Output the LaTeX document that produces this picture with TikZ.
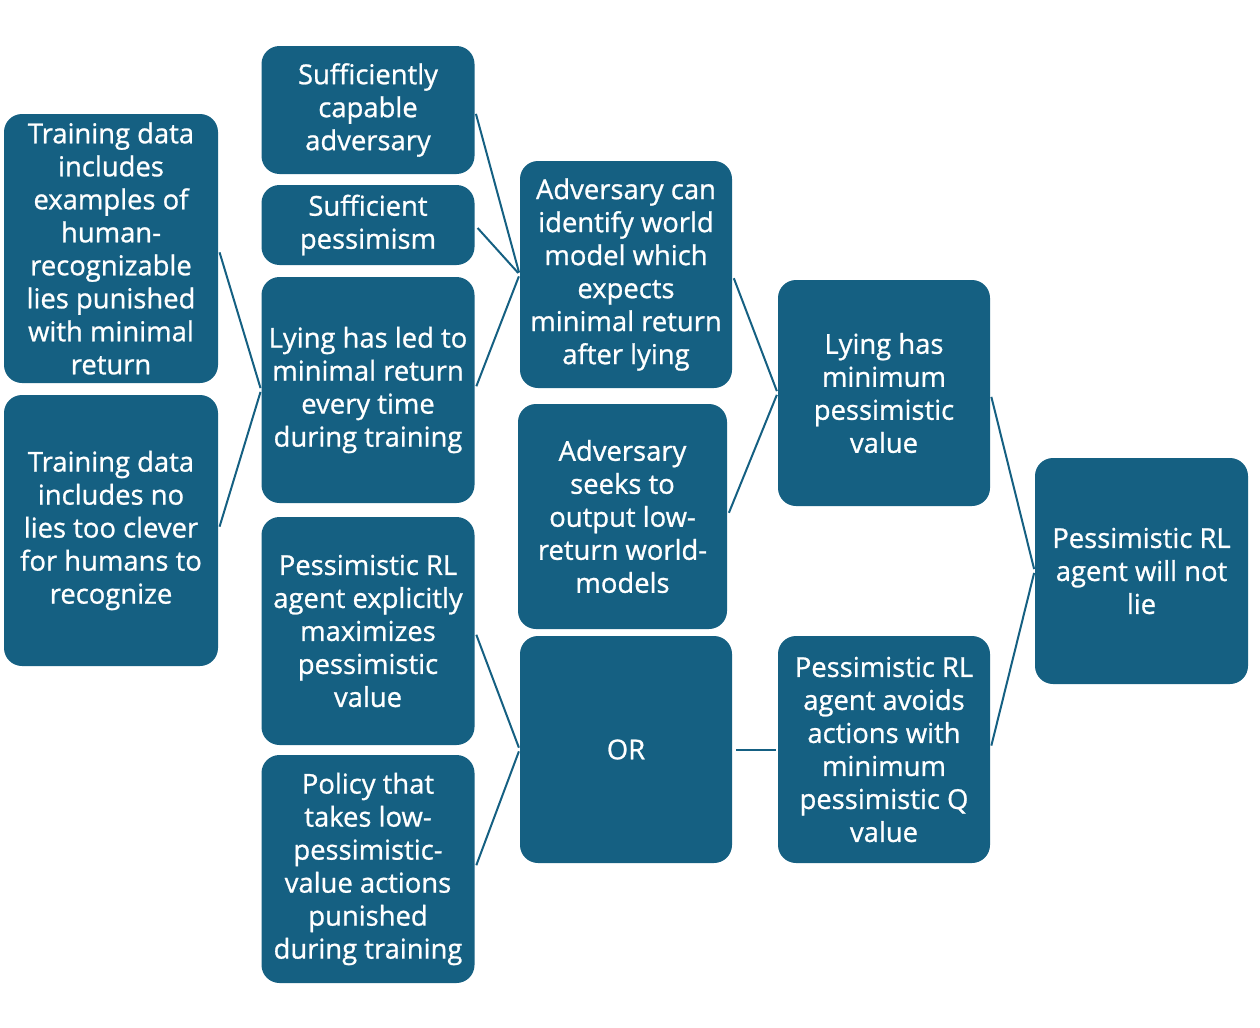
\documentclass[tikz,border=0pt]{standalone}
\usepackage{fontspec}
\setmainfont{Open Sans}
\newfontfamily\boxfont{Open Sans}[FakeBold=0.9]
\usepackage{tikz}
\definecolor{tealblue}{HTML}{156082}

\begin{document}
\begin{tikzpicture}[
  x=0.5pt, y=-0.5pt,
  blk/.style={fill=tealblue, text=white, rounded corners=9pt, align=center,
    inner sep=2pt, font={\boxfont\fontsize{13.7}{16.5}\selectfont}},
  lnk/.style={draw=tealblue, line width=1pt, shorten <=2pt, shorten >=1pt},
]

\useasboundingbox (0,0) rectangle (1260,1028);

\node [blk, minimum width=107pt, minimum height=134.5pt] (tdlies) at (111,248.5)
  {Training data\\includes\\examples of\\human-\\recognizable\\lies punished\\with minimal\\return};
\node [blk, minimum width=107pt, minimum height=135.5pt] (tdclever) at (111,530.5)
  {Training data\\includes no\\lies too clever\\for humans to\\recognize};

\node [blk, minimum width=106.5pt, minimum height=64pt] (capable) at (368,110)
  {Sufficiently\\capable\\adversary};
\node [blk, minimum width=106.5pt, minimum height=40pt] (pessim) at (368,225)
  {Sufficient\\pessimism};
\node [blk, minimum width=106.5pt, minimum height=113pt] (ledmin) at (368,390)
  {Lying has led to\\minimal return\\every time\\during training};
\node [blk, minimum width=106.5pt, minimum height=114pt] (maxpess) at (368,631)
  {Pessimistic RL\\agent explicitly\\maximizes\\pessimistic\\value};
\node [blk, minimum width=106.5pt, minimum height=114pt] (policy) at (368,869)
  {Policy that\\takes low-\\pessimistic-\\value actions\\punished\\during training};

\node [blk, minimum width=106pt, minimum height=113.5pt] (identify) at (626,274.5)
  {Adversary can\\identify world\\model which\\expects\\minimal return\\after lying};
\node [blk, minimum width=104.5pt, minimum height=112.5pt] (seeks) at (622.5,516.5)
  {Adversary\\seeks to\\output low-\\return world-\\models};
\node [blk, minimum width=106pt, minimum height=113.5pt] (or) at (626,749.5)
  {OR};

\node [blk, minimum width=106pt, minimum height=113pt] (minval) at (884,393)
  {Lying has\\minimum\\pessimistic\\value};
\node [blk, minimum width=106pt, minimum height=113.5pt] (avoids) at (884,749.5)
  {Pessimistic RL\\agent avoids\\actions with\\minimum\\pessimistic Q\\value};

\node [blk, minimum width=106.5pt, minimum height=113pt] (nolie) at (1141.5,571)
  {Pessimistic RL\\agent will not\\lie};

\draw [lnk] (tdlies.east) -- (ledmin.west);
\draw [lnk] (tdclever.east) -- (ledmin.west);

\draw [lnk] (capable.east) -- (identify.west);
\draw [lnk] (pessim.east) -- (identify.west);
\draw [lnk] (ledmin.east) -- (identify.west);

\draw [lnk] (maxpess.east) -- (or.west);
\draw [lnk] (policy.east) -- (or.west);

\draw [lnk] (identify.east) -- (minval.west);
\draw [lnk] (seeks.east) -- (minval.west);
\draw [lnk] (or.east) -- (avoids.west);

\draw [lnk] (minval.east) -- (nolie.west);
\draw [lnk] (avoids.east) -- (nolie.west);

\end{tikzpicture}
\end{document}
